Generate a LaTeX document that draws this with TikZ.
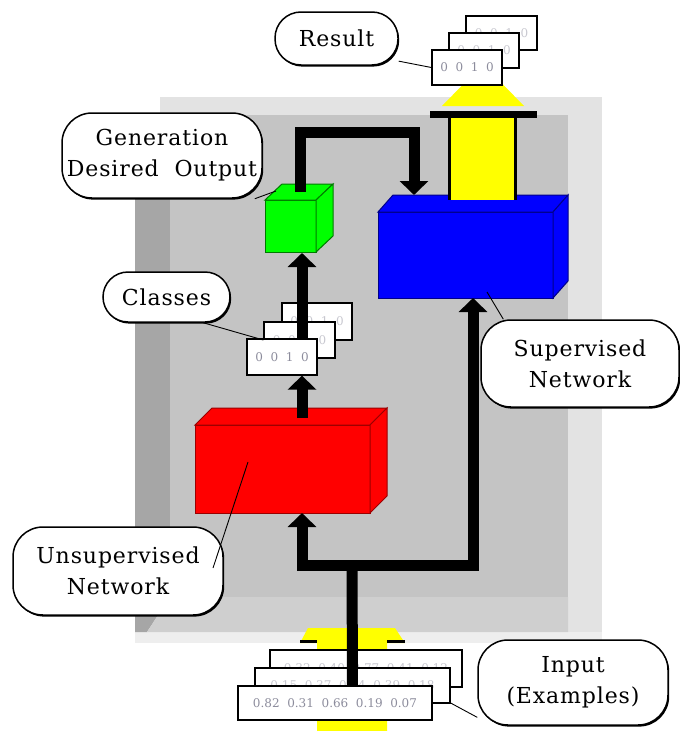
\documentclass[tikz,border=0pt]{standalone}
\usepackage{fontspec}
\setmainfont{DejaVu Serif}[LetterSpace=4]
\newfontfamily\cardfam{DejaVu Serif}
\usetikzlibrary{arrows.meta,calc,shadows}
\definecolor{bgl}{HTML}{E3E3E3}
\definecolor{bgb}{HTML}{EEEEEE}
\definecolor{bgd}{HTML}{A6A6A6}
\definecolor{bgm}{HTML}{CFCFCF}
\definecolor{bgf}{HTML}{C4C4C4}
\definecolor{yel}{HTML}{FFFF00}
\definecolor{redf}{HTML}{FF0000}
\definecolor{rede}{HTML}{9A0000}
\definecolor{bluf}{HTML}{0000FF}
\definecolor{blue2}{HTML}{00008A}
\definecolor{grnf}{HTML}{00FF00}
\definecolor{grne}{HTML}{007A00}
\definecolor{cardtxt}{HTML}{8C8C9C}
\definecolor{cardfaint}{HTML}{C8C8D0}
\newcommand{\mybox}[8]{%
  \filldraw[fill=#7, draw=#8, line width=1pt] (#1,#2) rectangle (#3,#4);
  \filldraw[fill=#7, draw=#8, line width=1pt] (#1,#2) -- ({#1+#5},{#2-#6}) -- ({#3+#5},{#2-#6}) -- (#3,#2) -- cycle;
  \filldraw[fill=#7, draw=#8, line width=1pt] (#3,#2) -- ({#3+#5},{#2-#6}) -- ({#3+#5},{#4-#6}) -- (#3,#4) -- cycle;
}
\tikzset{
  bubble/.style={draw=black, line width=1.5pt, fill=white, rounded corners=30pt, align=center, inner sep=0pt,
    font=\fontsize{22}{31}\selectfont,
    drop shadow={opacity=1, fill=black, shadow xshift=1.2pt, shadow yshift=-1.6pt}},
  card/.style={draw=black, line width=1.3pt, fill=white, inner sep=0pt, text=cardtxt, font=\cardfam\fontsize{12}{14}\selectfont},
  faint/.style={card, text=cardfaint},
  conn/.style={draw=black, line width=11pt},
  lead/.style={draw=black, line width=0.9pt},
  bigtip/.style={-{Triangle[width=28pt,length=14pt]}},
}
\begin{document}
\begin{tikzpicture}[x=1pt,y=-1pt,line join=miter]
\useasboundingbox (0,0) rectangle (680,731);
\fill[white] (0,0) rectangle (680,731);

% backdrop box
\fill[bgl] (160,97) rectangle (602,632);
\fill[bgb] (135,632) rectangle (602,643);
\fill[bgd] (135,125) -- (170,115) -- (170,597) -- (147,632) -- (135,632) -- cycle;
\fill[bgm] (147,632) -- (170,597) -- (568,597) -- (568,632) -- cycle;
\fill[bgf] (170,115) rectangle (568,597);

% input yellow arrow
\fill[yel] (308,628) -- (395,628) -- (405,643) -- (387,643) -- (387,731) -- (317,731) -- (317,643) -- (300,643) -- cycle;
\draw[black,line width=3pt] (300,641.5) -- (317,641.5) (387,641.5) -- (405,641.5);

% network blocks
\mybox{195}{425}{370}{513}{17}{17}{redf}{rede}
\mybox{378}{212}{553}{298}{15}{17}{bluf}{blue2}
\mybox{265}{200}{316}{252}{17}{16}{grnf}{grne}

% anchor coordinates
\coordinate (J) at (352,565);
\coordinate (redB) at (302,513);
\coordinate (redT) at (302,418);
\coordinate (bluB) at (473,298);
\coordinate (bluT) at (414,195);
\coordinate (cubB) at (302,253);
\coordinate (cubT) at (300,192);
\coordinate (loopR) at (414,132);
\coordinate (redIn) at (248,462);
\coordinate (unsIn) at (213,568);
\coordinate (bluIn) at (487,292);
\coordinate (cubCorner) at (276,191);

% result yellow arrow
\fill[yel] (448,116) rectangle (517,200);
\draw[black,line width=3pt] (449.5,116) -- (449.5,200) (515.5,116) -- (515.5,200);
\fill[black] (430,111) rectangle (537,118);
\fill[yel] (442,106) -- (524,106) -- (483,64) -- cycle;

% result cards
\node[faint, minimum width=71pt, minimum height=34pt] (resB) at (501.5,33) {0\ \ 0\ \ 1\ \ 0};
\node[faint, minimum width=70pt, minimum height=35pt] (resM) at (484,50.5) {0\ \ 0\ \ 1\ \ 0};
\node[card, minimum width=70pt, minimum height=35pt] (resF) at (467,67.5) {0\ \ 0\ \ 1\ \ 0};

% input cards
\node[faint, minimum width=192pt, minimum height=37pt] (inpB) at (366,668.5) {0.32\ \ 0.40\ \ 0.77\ \ 0.41\ \ 0.12};
\node[faint, minimum width=195pt, minimum height=35pt] (inpM) at (352.5,685.5) {0.15\ \ 0.37\ \ 0.54\ \ 0.39\ \ 0.18};
\draw[conn] (inpM.center) -- (J);
\node[card, minimum width=194pt, minimum height=34pt] (inpF) at (335,703) {0.82\ \ 0.31\ \ 0.66\ \ 0.19\ \ 0.07};

% black flow connectors
\draw[conn,bigtip] (J) -| (redB);
\draw[conn,bigtip] (J) -| (bluB);

% classes cards
\node[faint, minimum width=70pt, minimum height=37pt] (clsB) at (317,321.5) {0\ \ 0\ \ 1\ \ 0};
\node[faint, minimum width=71pt, minimum height=36pt] (clsM) at (299.5,340) {0\ \ 0\ \ 1\ \ 0};
\draw[conn,bigtip] (cubB |- clsM.center) -- (cubB);
\node[card, minimum width=70pt, minimum height=36pt] (clsF) at (282,357) {0\ \ 0\ \ 1\ \ 0};
\draw[conn,bigtip] (redT) -- (redT |- clsF.south);

\draw[conn,bigtip] (cubT) |- (loopR) -- (bluT);

% callout bubbles
\node[bubble, minimum width=123pt, minimum height=53pt, rounded corners=26pt] (res) at (336.5,38.5) {Result};
\node[bubble, minimum width=200pt, minimum height=85pt] (gen) at (162,155.5) {Generation\\Desired\ \ Output};
\node[bubble, minimum width=127pt, minimum height=50pt, rounded corners=25pt] (cls) at (166.5,297) {Classes};
\node[bubble, minimum width=210pt, minimum height=88pt] (uns) at (118,571) {Unsupervised\\Network};
\node[bubble, minimum width=198pt, minimum height=87pt] (sup) at (580,363.5) {Supervised\\Network};
\node[bubble, minimum width=190pt, minimum height=85pt] (inp) at (573,682.5) {Input\\(Examples)};

% leader lines
\draw[lead] (res.-20) -- (resF.west);
\draw[lead] (gen.-25) -- (cubCorner);
\draw[lead] (cls.-35) -- (clsM.west);
\draw[lead] (redIn) -- (unsIn);
\draw[lead] (bluIn) -- (sup.150);
\draw[lead] (inpM.east |- inpF.east) -- (inp.200);
\end{tikzpicture}
\end{document}
